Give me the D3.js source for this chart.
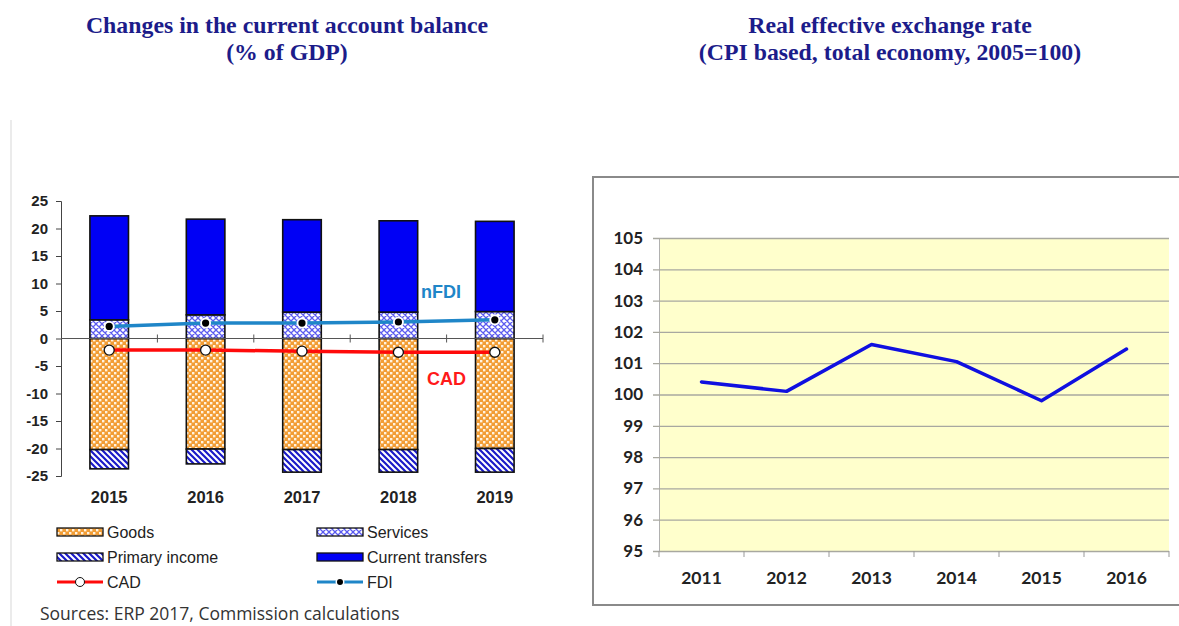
<!DOCTYPE html>
<html>
<head>
<meta charset="utf-8">
<script src="https://cdn.jsdelivr.net/npm/d3@7"></script>
<style>
  body { margin: 0; background: #fff; }
  svg { display: block; }
</style>
</head>
<body>
<svg width="1179" height="626"></svg>
<script>
// ---- data: current account (left) ----
const years = ["2015", "2016", "2017", "2018", "2019"];
const goods = [-20.2, -20.1, -20.2, -20.2, -20.0];
const services = [3.4, 4.3, 4.8, 4.8, 4.9];
const primaryIncome = [-3.5, -2.7, -4.1, -4.1, -4.3];
const currentTransfers = [18.9, 17.4, 16.8, 16.6, 16.4];
const cad = [-2.1, -2.1, -2.3, -2.5, -2.5];
const fdi = [2.2, 2.8, 2.8, 3.0, 3.4];
const leftTicks = [25, 20, 15, 10, 5, 0, -5, -10, -15, -20, -25];

// ---- data: REER (right) ----
const reerYears = ["2011", "2012", "2013", "2014", "2015", "2016"];
const reer = [100.4, 100.1, 101.6, 101.05, 99.8, 101.45];
const reerTicks = [95, 96, 97, 98, 99, 100, 101, 102, 103, 104, 105];

const svg = d3.select("svg");
const navy = "#1c1c8a";
const sans = "Liberation Sans, Arial, sans-serif";

// patterns
const defs = svg.append("defs");
let p = defs.append("pattern").attr("id", "pGoods").attr("patternUnits", "userSpaceOnUse")
  .attr("width", 6).attr("height", 6);
p.append("rect").attr("width", 6).attr("height", 6).attr("fill", "#f29d35");
p.append("rect").attr("x", 0).attr("y", 0).attr("width", 2.4).attr("height", 2.4).attr("fill", "#fff3e0");
p.append("rect").attr("x", 3).attr("y", 3).attr("width", 2.4).attr("height", 2.4).attr("fill", "#fff3e0");

p = defs.append("pattern").attr("id", "pServ").attr("patternUnits", "userSpaceOnUse")
  .attr("width", 6).attr("height", 6);
p.append("rect").attr("width", 6).attr("height", 6).attr("fill", "#fff");
p.append("path").attr("d", "M0,0L6,6M6,0L0,6M-1,5L1,7M5,-1L7,1M-1,1L1,-1M5,7L7,5")
  .attr("stroke", "#5b5bf0").attr("stroke-width", 1.3);

p = defs.append("pattern").attr("id", "pPrim").attr("patternUnits", "userSpaceOnUse")
  .attr("width", 6).attr("height", 6);
p.append("rect").attr("width", 6).attr("height", 6).attr("fill", "#fff");
p.append("path").attr("d", "M0,0L6,6M-1,5L1,7M5,-1L7,1")
  .attr("stroke", "#1a1ac8").attr("stroke-width", 2.2);

// ---- titles ----
const titles = [
  [287, 33, "Changes in the current account balance"],
  [287, 60, "(% of GDP)"],
  [890, 33, "Real effective exchange rate"],
  [890, 60, "(CPI based, total economy, 2005=100)"]
];
svg.selectAll("text.title").data(titles).enter().append("text")
  .attr("class", "title")
  .attr("x", d => d[0]).attr("y", d => d[1])
  .attr("text-anchor", "middle")
  .attr("font-family", "Liberation Serif, Times New Roman, serif")
  .attr("font-weight", "bold").attr("font-size", 23.8)
  .attr("fill", navy)
  .text(d => d[2]);

// faint panel border on left
svg.append("line").attr("x1", 11).attr("x2", 11).attr("y1", 120).attr("y2", 626)
  .attr("stroke", "#e4e4e4").attr("stroke-width", 1.5);

// ---- left chart ----
const x = d3.scaleBand().domain(years).range([61, 543]).paddingInner(0.6).paddingOuter(0.3);
const y = d3.scaleLinear().domain([-25, 25]).range([476, 201]);

const rows = years.map((yr, i) => ({
  year: yr, goods: goods[i], primary: primaryIncome[i],
  services: services[i], transfers: currentTransfers[i]
}));
const keys = ["goods", "services", "primary", "transfers"];
const fills = { goods: "url(#pGoods)", services: "url(#pServ)", primary: "url(#pPrim)", transfers: "#0000f5" };
const stack = d3.stack().keys(keys).offset(d3.stackOffsetDiverging)(rows);

const left = svg.append("g");
left.selectAll("g.ser").data(stack).enter().append("g")
  .attr("fill", d => fills[d.key])
  .selectAll("rect").data(d => d).enter().append("rect")
  .attr("x", d => x(d.data.year))
  .attr("width", x.bandwidth())
  .attr("y", d => y(Math.max(d[0], d[1])))
  .attr("height", d => Math.abs(y(d[0]) - y(d[1])))
  .attr("stroke", "#111").attr("stroke-width", 1.6);

// y axis
const yAxis = left.append("g").attr("transform", "translate(61,0)")
  .call(d3.axisLeft(y).tickValues(leftTicks).tickFormat(d => String(d)).tickSize(5).tickPadding(8));
yAxis.select(".domain").attr("stroke", "#444");
yAxis.selectAll(".tick line").attr("stroke", "#444");
yAxis.selectAll("text").attr("font-family", sans)
  .attr("font-weight", "bold").attr("font-size", 15).attr("fill", "#222");

// zero axis with boundary ticks
left.append("line").attr("x1", 61).attr("x2", 543).attr("y1", y(0)).attr("y2", y(0))
  .attr("stroke", "#555").attr("stroke-width", 1);
const step = x.step();
left.selectAll("line.bt").data(years).enter().append("line")
  .attr("x1", d => x(d) + x.bandwidth() / 2 + step / 2)
  .attr("x2", d => x(d) + x.bandwidth() / 2 + step / 2)
  .attr("y1", y(0) - 4).attr("y2", y(0) + 4)
  .attr("stroke", "#555");

// x labels
left.selectAll("text.xl").data(years).enter().append("text")
  .attr("x", d => x(d) + x.bandwidth() / 2).attr("y", 503)
  .attr("text-anchor", "middle")
  .attr("font-family", sans)
  .attr("font-weight", "bold").attr("font-size", 16.5).attr("fill", "#222")
  .text(d => d);

// lines
const cx = (d, i) => x(years[i]) + x.bandwidth() / 2;
const fdiColor = "#1f86c8";
left.append("path").datum(fdi)
  .attr("d", d3.line().x(cx).y(d => y(d)))
  .attr("fill", "none").attr("stroke", fdiColor).attr("stroke-width", 3.5);
left.append("path").datum(cad)
  .attr("d", d3.line().x(cx).y(d => y(d)))
  .attr("fill", "none").attr("stroke", "#ff0a0a").attr("stroke-width", 3.5);
left.selectAll("circle.cad").data(cad).enter().append("circle")
  .attr("cx", cx).attr("cy", d => y(d)).attr("r", 5)
  .attr("fill", "#fff").attr("stroke", "#111").attr("stroke-width", 1.3);
left.selectAll("circle.fdiw").data(fdi).enter().append("circle")
  .attr("cx", cx).attr("cy", d => y(d)).attr("r", 5.5).attr("fill", "#fff");
left.selectAll("circle.fdib").data(fdi).enter().append("circle")
  .attr("cx", cx).attr("cy", d => y(d)).attr("r", 3.6).attr("fill", "#000");

left.append("text").attr("x", 421).attr("y", 298)
  .attr("font-family", sans).attr("font-weight", "bold")
  .attr("font-size", 18).attr("fill", fdiColor).text("nFDI");
left.append("text").attr("x", 427).attr("y", 385)
  .attr("font-family", sans).attr("font-weight", "bold")
  .attr("font-size", 18).attr("fill", "#ff1a1a").text("CAD");

// legend
const legend = [
  { name: "Goods", fill: "url(#pGoods)", col: 0, row: 0 },
  { name: "Services", fill: "url(#pServ)", col: 1, row: 0 },
  { name: "Primary income", fill: "url(#pPrim)", col: 0, row: 1 },
  { name: "Current transfers", fill: "#0000f5", col: 1, row: 1 },
  { name: "CAD", line: "#ff0a0a", col: 0, row: 2 },
  { name: "FDI", line: fdiColor, col: 1, row: 2 }
];
const lg = left.selectAll("g.lg").data(legend).enter().append("g")
  .attr("transform", d => `translate(${d.col ? 317 : 57},${532 + d.row * 25})`);
lg.filter(d => !d.line).append("rect")
  .attr("x", 0).attr("y", -4).attr("width", 46).attr("height", 8)
  .attr("fill", d => d.fill).attr("stroke", "#111").attr("stroke-width", 1.3);
lg.filter(d => d.line).append("line")
  .attr("x1", 0).attr("x2", 46).attr("y1", 0).attr("y2", 0)
  .attr("stroke", d => d.line).attr("stroke-width", 3);
lg.filter(d => d.name === "CAD").append("circle").attr("cx", 23).attr("r", 4.5)
  .attr("fill", "#fff").attr("stroke", "#111");
lg.filter(d => d.name === "FDI").append("circle").attr("cx", 23).attr("r", 4.5).attr("fill", "#fff");
lg.filter(d => d.name === "FDI").append("circle").attr("cx", 23).attr("r", 3).attr("fill", "#000");
lg.append("text").attr("x", 50).attr("y", 5.5)
  .attr("font-family", sans).attr("font-size", 16)
  .attr("fill", "#222").text(d => d.name);

svg.append("text").attr("x", 40).attr("y", 620)
  .attr("font-family", "Open Sans, sans-serif").attr("font-size", 17.5).attr("fill", "#333")
  .text("Sources: ERP 2017, Commission calculations");

// ---- right chart ----
const right = svg.append("g");
right.append("rect").attr("x", 593).attr("y", 177).attr("width", 600).attr("height", 428)
  .attr("fill", "#fff").attr("stroke", "#8a8a8a").attr("stroke-width", 2);

const x2 = d3.scaleBand().domain(reerYears).range([659, 1169]);
const y2 = d3.scaleLinear().domain([95, 105]).range([551, 238]);

right.append("rect").attr("x", 659).attr("y", y2(105)).attr("width", 1169 - 659)
  .attr("height", y2(95) - y2(105)).attr("fill", "#ffffcc");

const yAx2 = right.append("g").attr("transform", "translate(659,0)")
  .call(d3.axisLeft(y2).tickValues(reerTicks).tickSize(-(1169 - 659)).tickPadding(16));
yAx2.select(".domain").attr("stroke", "#b0b0b0");
yAx2.selectAll(".tick line").attr("stroke", "#a8a8a0").attr("stroke-width", 1.3).attr("x1", -6);
yAx2.selectAll("text").attr("font-family", "Lato, sans-serif").attr("font-weight", "bold")
  .attr("font-size", 17).attr("fill", "#222");

// x axis ticks at band boundaries
const xb = reerYears.map(d => x2(d)).concat([1169]);
right.selectAll("line.xt").data(xb).enter().append("line")
  .attr("x1", d => d).attr("x2", d => d).attr("y1", y2(95)).attr("y2", y2(95) + 6)
  .attr("stroke", "#999");
right.selectAll("text.xl").data(reerYears).enter().append("text")
  .attr("x", d => x2(d) + x2.bandwidth() / 2).attr("y", 584)
  .attr("text-anchor", "middle")
  .attr("font-family", "Lato, sans-serif").attr("font-weight", "bold")
  .attr("font-size", 17.5).attr("fill", "#222").text(d => d);

right.append("path").datum(reer)
  .attr("d", d3.line().x((d, i) => x2(reerYears[i]) + x2.bandwidth() / 2).y(d => y2(d)))
  .attr("fill", "none").attr("stroke", "#1010e0").attr("stroke-width", 3.5)
  .attr("stroke-linejoin", "round").attr("stroke-linecap", "round");
</script>
</body>
</html>
